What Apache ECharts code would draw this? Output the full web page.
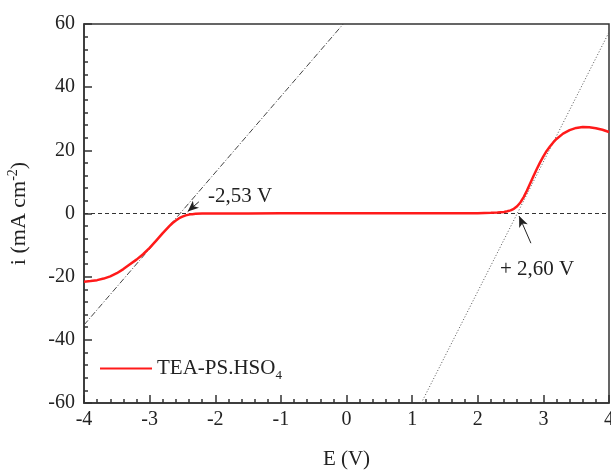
<!DOCTYPE html>
<html>
<head>
<meta charset="utf-8">
<script src="https://cdn.jsdelivr.net/npm/echarts@6/dist/echarts.min.js"></script>
<style>
  html, body { margin: 0; padding: 0; background: #fff; }
  #chart { width: 611px; height: 470px; }
</style>
</head>
<body>
<div id="chart"></div>
<script>
    // potential (V) and current density (mA cm-2)
    var potential = [-4.0, -3.9, -3.8, -3.7, -3.6, -3.5, -3.4, -3.3, -3.2, -3.1, -3.0, -2.9, -2.8, -2.7, -2.65, -2.6, -2.55, -2.5, -2.45, -2.4, -2.35, -2.3, -2.2,
        -2.0, -1.5, -1.0, -0.5, 0.0, 0.5, 1.0, 1.5, 2.0, 2.2, 2.3, 2.4, 2.45, 2.5, 2.55, 2.6, 2.65, 2.7, 2.75, 2.8, 2.85, 2.9, 2.95, 3.0, 3.05, 3.1, 3.15, 3.2, 3.3, 3.4, 3.5, 3.6, 3.7, 3.8, 3.9, 4.0];
    var current = [-21.6, -21.4, -21.1, -20.6, -19.9, -18.9, -17.6, -16.1, -14.6, -12.9, -10.9, -8.6, -6.2, -4.0, -3.0, -2.2, -1.5, -1.0, -0.6, -0.35, -0.2, -0.1, 0.0,
        0.0, 0.0, 0.05, 0.05, 0.1, 0.05, 0.05, 0.1, 0.1, 0.2, 0.3, 0.5, 0.7, 1.0, 1.5, 2.3, 3.5, 5.2, 7.3, 9.6, 11.9, 14.1, 16.2, 18.1, 19.8, 21.2, 22.5, 23.6, 25.3, 26.4, 27.1, 27.4, 27.3, 27.0, 26.5, 25.8];

    // tangent lines used to get the onset potentials
    var tangentCathodic = [[-4, -35.3], [-0.05, 60]];
    var tangentAnodic = [[1.14, -60], [4, 57.4]];
    var zeroLine = [[-4, 0], [4, 0]];

    // arrows pointing at the intercepts (tail, tip)
    var arrowCathodic = [[-2.25, 3.7], [-2.42, 0.6]];
    var arrowAnodic = [[2.81, -9.4], [2.63, -0.8]];
    var labelCathodic = '-2,53 V';
    var labelAnodic = '+ 2,60 V';

    var seriesName = 'TEA-PS.HSO4';

    var curveData = [];
    for (var i = 0; i < potential.length; i++) {
        curveData.push([potential[i], current[i]]);
    }

    var font = 'Liberation Serif';
    var ink = '#222';

    var myChart = echarts.init(document.getElementById('chart'));
    myChart.setOption({
        animation: false,
        grid: {
            left: 84, right: 2, top: 24, bottom: 67,
            outerBoundsMode: 'none', containLabel: false,
            show: true, borderColor: '#333', borderWidth: 1.5
        },
        legend: {
            data: [seriesName],
            left: 95, top: 353,
            icon: 'rect', itemWidth: 52, itemHeight: 2,
            formatter: function () { return 'TEA-PS.HSO{sub|4}'; },
            textStyle: {
                fontFamily: font, fontSize: 21, color: ink,
                rich: { sub: { fontFamily: font, fontSize: 13, color: ink, verticalAlign: 'bottom', padding: [14, 0, 0, 0] } }
            }
        },
        xAxis: {
            type: 'value', min: -4, max: 4, interval: 1,
            name: 'E (V)', nameLocation: 'middle', nameGap: 46,
            nameTextStyle: { fontFamily: font, fontSize: 21, color: ink },
            splitLine: { show: false },
            axisLine: { onZero: false, lineStyle: { color: '#333', width: 1.5 } },
            axisTick: { inside: true, length: 8, lineStyle: { color: '#333', width: 1.5 } },
            minorTick: { show: true, splitNumber: 5, length: 4, lineStyle: { color: '#333', width: 1.5 } },
            axisLabel: { fontFamily: font, fontSize: 20, color: ink, margin: 7 }
        },
        yAxis: {
            type: 'value', min: -60, max: 60, interval: 20,
            name: 'i (mA cm{sup|-2})', nameLocation: 'middle', nameGap: 52,
            nameTextStyle: {
                fontFamily: font, fontSize: 22, color: ink,
                rich: { sup: { fontFamily: font, fontSize: 14, color: ink, padding: [0, 0, 12, 0] } }
            },
            splitLine: { show: false },
            axisLine: { onZero: false, lineStyle: { color: '#333', width: 1.5 } },
            axisTick: { inside: true, length: 8, lineStyle: { color: '#333', width: 1.5 } },
            minorTick: { show: true, splitNumber: 5, length: 4, lineStyle: { color: '#333', width: 1.5 } },
            axisLabel: { fontFamily: font, fontSize: 20, color: ink, margin: 9 }
        },
        graphic: [
            { type: 'text', left: 208, top: 186, style: { text: labelCathodic, font: '21px "Liberation Serif"', fill: ink } },
            { type: 'text', left: 500, top: 259, style: { text: labelAnodic, font: '21px "Liberation Serif"', fill: ink } }
        ],
        series: [
            {
                name: 'zero', type: 'line', data: zeroLine, showSymbol: false, silent: true,
                lineStyle: { color: '#333', width: 1, type: [4, 3] },
                markLine: {
                    silent: true, symbol: ['none', 'arrow'], symbolSize: [7, 11],
                    label: { show: false },
                    lineStyle: { color: '#222', width: 1, type: 'solid' },
                    data: [
                        [{ coord: arrowCathodic[0] }, { coord: arrowCathodic[1] }],
                        [{ coord: arrowAnodic[0] }, { coord: arrowAnodic[1] }]
                    ]
                }
            },
            {
                name: 'tangent1', type: 'line', data: tangentCathodic, showSymbol: false, silent: true,
                lineStyle: { color: '#444', width: 1, type: [6, 2, 1, 2] }
            },
            {
                name: 'tangent2', type: 'line', data: tangentAnodic, showSymbol: false, silent: true,
                lineStyle: { color: '#555', width: 1, type: [1, 2] }
            },
            {
                name: seriesName, type: 'line', data: curveData, showSymbol: false, smooth: false,
                itemStyle: { color: '#ff1a1a' },
                lineStyle: { color: '#ff1a1a', width: 2.5, join: 'round' }
            }
        ]
    });
</script>
</body>
</html>
